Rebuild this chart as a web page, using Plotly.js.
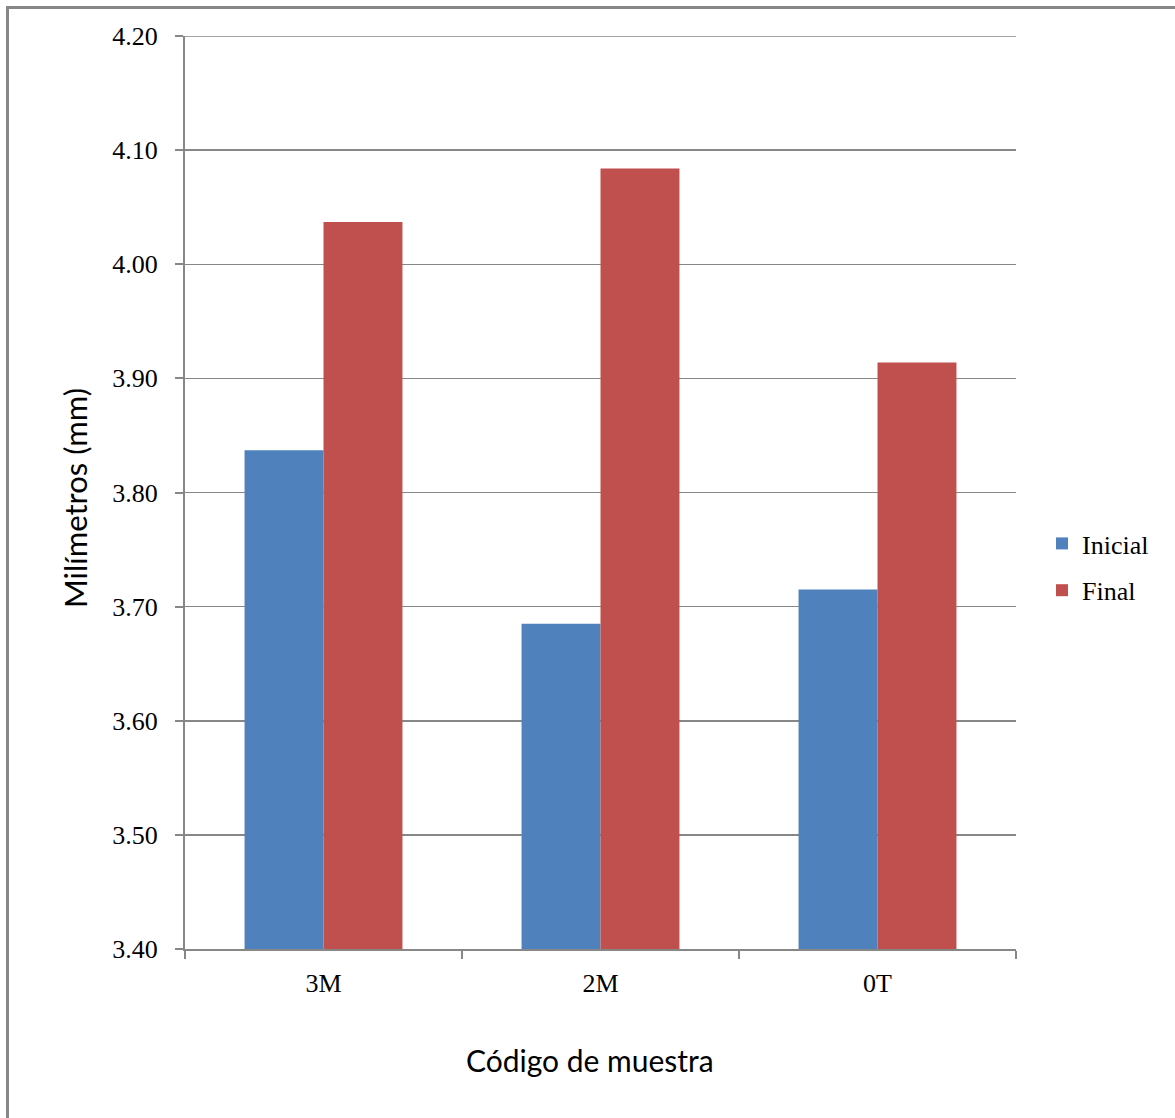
<!DOCTYPE html>
<html>
<head>
<meta charset="utf-8">
<script src="https://cdn.plot.ly/plotly-3.0.1.min.js"></script>
<style>
  html, body { margin: 0; padding: 0; background: #ffffff; }
  #chart { width: 1175px; height: 1118px; }
</style>
</head>
<body>
<div id="chart"></div>
<script>
// Sample codes and measured thickness (mm) before and after
const categories = ['3M', '2M', '0T'];
const inicial = [3.837, 3.685, 3.715];
const final = [4.037, 4.084, 3.914];
const yTicks = [3.40, 3.50, 3.60, 3.70, 3.80, 3.90, 4.00, 4.10, 4.20];
const yTickLabels = ['3.40', '3.50', '3.60', '3.70', '3.80', '3.90', '4.00', '4.10', '4.20'];
const yMin = 3.40, yMax = 4.20;
const xTitle = 'Código de muestra';
const yTitle = 'Milímetros (mm)';

const serif = '"Liberation Serif", "DejaVu Serif", serif';
const sans = 'Lato, "Open Sans", sans-serif';
const gray = '#878787';

const W = 1175, H = 1118;
const m = { l: 185, r: 159, t: 36, b: 169 };
const pw = W - m.l - m.r, ph = H - m.t - m.b;
const px = v => (v - m.l) / pw;
const py = v => 1 - (v - m.t) / ph;

const traces = [
  { type: 'bar', name: 'Inicial', x: categories, y: inicial, legendgroup: 'a',
    marker: { color: '#4F81BD' } },
  { type: 'bar', name: 'Final', x: categories, y: final, legendgroup: 'b',
    marker: { color: '#C0504D' } }
];

const layout = {
  width: W, height: H,
  margin: m,
  paper_bgcolor: '#ffffff',
  plot_bgcolor: '#ffffff',
  barmode: 'group',
  bargap: 0.43,
  bargroupgap: 0,
  showlegend: true,
  legend: {
    x: px(1042), y: py(567), xanchor: 'left', yanchor: 'middle',
    font: { family: serif, size: 26, color: '#000000' },
    bgcolor: 'rgba(0,0,0,0)',
    traceorder: 'grouped',
    tracegroupgap: 10,
    itemwidth: 30
  },
  xaxis: {
    type: 'category',
    showline: true, linecolor: gray, linewidth: 2,
    ticks: 'outside', tickson: 'boundaries', ticklen: 8, tickcolor: gray, tickwidth: 2,
    ticklabelstandoff: 10,
    tickfont: { family: serif, size: 26, color: '#000000' },
    showgrid: false,
    fixedrange: true
  },
  yaxis: {
    range: [yMin, yMax],
    tickvals: yTicks, ticktext: yTickLabels,
    showline: true, linecolor: gray, linewidth: 2,
    ticks: 'outside', ticklen: 8, tickcolor: gray, tickwidth: 2,
    ticklabelstandoff: 12,
    tickfont: { family: serif, size: 26, color: '#000000' },
    showgrid: true, gridcolor: gray, gridwidth: 1.5,
    zeroline: false,
    fixedrange: true
  },
  annotations: [
    { text: xTitle, xref: 'paper', yref: 'paper', x: px(590), y: py(1060),
      xanchor: 'center', yanchor: 'middle', showarrow: false,
      font: { family: sans, size: 30, color: '#000000' } },
    { text: yTitle, xref: 'paper', yref: 'paper', x: px(75), y: py(498),
      xanchor: 'center', yanchor: 'middle', showarrow: false, textangle: -90,
      font: { family: sans, size: 31, color: '#000000' } }
  ],
  shapes: [
    // outer chart frame
    { type: 'rect', xref: 'paper', yref: 'paper',
      x0: px(7.5), x1: px(1190), y0: py(1130), y1: py(7.5),
      line: { color: gray, width: 3 }, fillcolor: 'rgba(0,0,0,0)', layer: 'below' },
    // top gridline at the axis maximum
    { type: 'line', xref: 'paper', yref: 'y', x0: 0, x1: 1, y0: yMax, y1: yMax,
      line: { color: gray, width: 1.5 }, layer: 'below' }
  ]
};

Plotly.newPlot('chart', traces, layout, { displayModeBar: false, staticPlot: true });
</script>
</body>
</html>
